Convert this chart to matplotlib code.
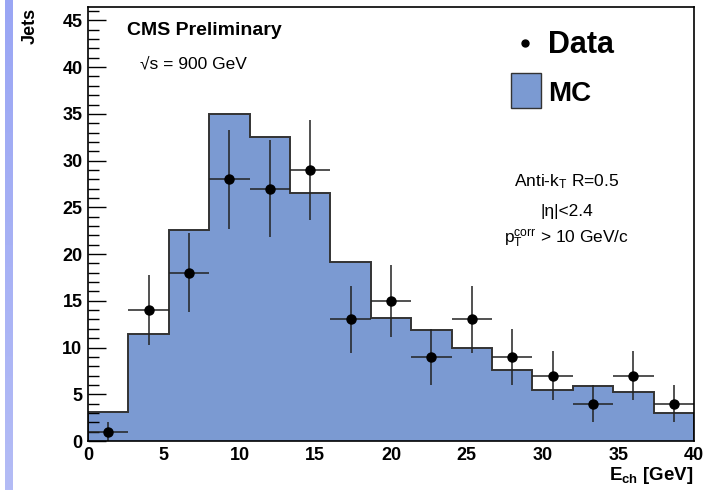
import numpy as np
import matplotlib
matplotlib.use("Agg")
import matplotlib.pyplot as plt
from matplotlib.patches import Rectangle
from matplotlib.lines import Line2D
from matplotlib.ticker import MultipleLocator
from matplotlib.colors import LinearSegmentedColormap

plt.rcParams["font.family"] = ["Liberation Sans", "DejaVu Sans"]
plt.rcParams["mathtext.fontset"] = "custom"
plt.rcParams["mathtext.rm"] = "Liberation Sans"
plt.rcParams["mathtext.it"] = "Liberation Sans:italic"
plt.rcParams["mathtext.bf"] = "Liberation Sans:bold"

# Charged energy binning (GeV)
bin_edges = np.linspace(0, 40, 16)

# Simulated jet counts per bin
mc_counts = [3.1, 11.5, 22.6, 35.0, 32.5, 26.5, 19.2, 13.2, 11.9, 10.0,
             7.6, 5.5, 5.9, 5.25, 3.0]

# Measured jet counts and statistical uncertainties
data_counts = [1, 14, 18, 28, 27, 29, 13, 15, 9, 13, 9, 7, 4, 7, 4]
data_errors = [1.0, 3.74, 4.24, 5.29, 5.20, 5.39, 3.61, 3.87, 3.0, 3.61,
               3.0, 2.65, 2.0, 2.65, 2.0]

x_ticks = [0, 5, 10, 15, 20, 25, 30, 35, 40]
y_ticks = [0, 5, 10, 15, 20, 25, 30, 35, 40, 45]

W, H = 714, 490
fig = plt.figure(figsize=(W / 100, H / 100), dpi=100)
fig.patch.set_facecolor("white")

# decorative side band
band = np.linspace(0, 1, 256).reshape(-1, 1)
cmap = LinearSegmentedColormap.from_list("band", ["#b4bcf6", "#9aa6f4"])
bax = fig.add_axes([5 / W, 0, 8 / W, 1])
bax.imshow(band, aspect="auto", cmap=cmap, origin="lower")
bax.set_axis_off()

ax = fig.add_axes([88 / W, 49 / H, (694 - 88) / W, (441 - 7.3) / H])

fill_color = "#7b9ad2"
edge_color = "#333333"
ax.stairs(mc_counts, bin_edges, fill=True, color=fill_color, zorder=1)
ax.stairs(mc_counts, bin_edges, fill=False, color=edge_color,
          linewidth=1.4, zorder=2)

centers = 0.5 * (bin_edges[:-1] + bin_edges[1:])
half_w = 0.5 * np.diff(bin_edges)
ax.errorbar(centers, data_counts, xerr=half_w, yerr=data_errors, fmt="o",
            color="black", ecolor="#222222", elinewidth=1.1, capsize=0,
            markersize=6.5, zorder=3)

ax.set_xlim(0, 40)
ax.set_ylim(0, 46.4)
ax.set_xticks(x_ticks)
ax.set_yticks(y_ticks)
ax.yaxis.set_minor_locator(MultipleLocator(1))
ax.tick_params(axis="y", which="major", direction="in", length=13,
               width=1.0, labelsize=13, pad=4, right=False)
ax.tick_params(axis="y", which="minor", direction="in", length=8,
               width=1.0, right=False)
ax.tick_params(axis="x", which="both", length=0, labelsize=13, pad=4)
for lab in ax.get_xticklabels() + ax.get_yticklabels():
    lab.set_fontweight("bold")
for s in ax.spines.values():
    s.set_linewidth(1.2)
    s.set_zorder(5)

# axis titles
fig.text(30 / W, 1 - 8 / H, "Jets", rotation=90, ha="center", va="top",
         fontsize=13, fontweight="bold")
fig.text(694 / W, 1 - 480 / H, r"E$_{\mathbf{ch}}$ [GeV]", ha="right",
         va="baseline", fontsize=13.5, fontweight="bold")

# header texts
fig.text(127 / W, 1 - 35 / H, "CMS Preliminary", ha="left", va="baseline",
         fontsize=14, fontweight="bold")
fig.text(140 / W, 1 - 68 / H, "√s = 900 GeV", ha="left",
         va="baseline", fontsize=12.5)

# legend
fig.add_artist(Line2D([525 / W], [1 - 43 / H], marker="o", color="black",
                      markersize=5, transform=fig.transFigure))
fig.text(548 / W, 1 - 53 / H, "Data", ha="left", va="baseline",
         fontsize=22, fontweight="bold")
fig.add_artist(Rectangle((511 / W, 1 - 108 / H), 30 / W, 35 / H,
                         facecolor=fill_color, edgecolor=edge_color,
                         linewidth=1.0, transform=fig.transFigure))
fig.text(548 / W, 1 - 101 / H, "MC", ha="left", va="baseline",
         fontsize=20, fontweight="bold")

# selection annotations
fig.text(567 / W, 1 - 186 / H, r"Anti-k$_{\mathrm{T}}$ R=0.5", ha="center",
         va="baseline", fontsize=12.5)
fig.text(567 / W, 1 - 216 / H, "|η|<2.4", ha="center", va="baseline",
         fontsize=12.5)
fig.text(567 / W, 1 - 242 / H,
         r"p$_{\mathrm{T}}^{\mathrm{corr}}$ > 10 GeV/c", ha="center",
         va="baseline", fontsize=12.5)

fig.savefig("out.png", dpi=100)
